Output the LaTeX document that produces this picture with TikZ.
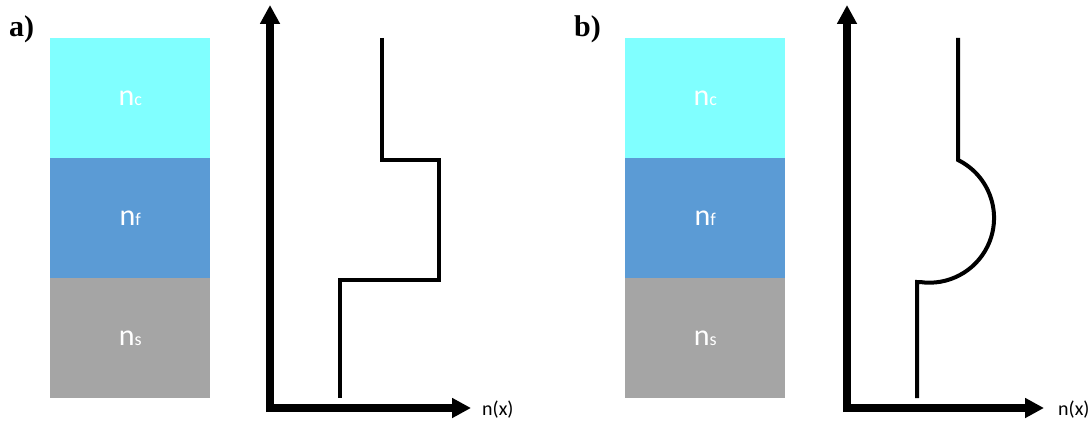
\documentclass[tikz,border=0pt]{standalone}
\usepackage{fontspec}
\setmainfont{Liberation Serif}
\newfontfamily\labelfont{Carlito}
\usetikzlibrary{arrows.meta}
\definecolor{clad}{HTML}{80FFFF}
\definecolor{film}{HTML}{5B9BD5}
\definecolor{subs}{HTML}{A5A5A5}
\newcommand{\idxtext}[2]{{\labelfont\fontsize{30}{32}\selectfont #1}{\labelfont\fontsize{18}{20}\selectfont #2}}
\tikzset{
  layer/.style={draw=none, minimum width=160pt, minimum height=120pt, inner sep=0pt,
                anchor=north west, text=white},
  axis/.style={line width=8pt, -{Triangle[length=19pt,width=19pt]}},
  profile/.style={line width=4pt, line join=miter},
  panel/.style={font=\bfseries\fontsize{30}{32}\selectfont, anchor=base west, inner sep=0pt},
  axlabel/.style={font=\labelfont\fontsize{20}{22}\selectfont, anchor=base west, inner sep=0pt},
}
\begin{document}
\begin{tikzpicture}[x=1pt, y=1pt]
  \useasboundingbox (0,0) rectangle (1092,421);

  % ---------- panel a ----------
  \node[panel] (la) at (9,384) {a)};
  \node[layer, fill=clad] (ca) at (50,383) {\idxtext{n}{c}};
  \node[layer, fill=film] (fa) at (50,263) {\idxtext{n}{f}};
  \node[layer, fill=subs] (sa) at (50,143) {\idxtext{n}{s}};

  \coordinate (oa) at (270,9);
  \coordinate (ya) at (270,416);
  \coordinate (ha) at (266,13);
  \coordinate (xa) at (471,13);
  \draw[axis] (oa) -- (ya);
  \draw[axis] (ha) -- (xa);
  \node[axlabel] (nxa) at (482,6) {n(x)};

  \draw[profile] (382,383) -- (382,261) -- (439,261) -- (439,141)
                 -- (340,141) -- (340,23);

  % ---------- panel b ----------
  \node[panel] (lb) at (574,384) {b)};
  \node[layer, fill=clad] (cb) at (625,383) {\idxtext{n}{c}};
  \node[layer, fill=film] (fb) at (625,263) {\idxtext{n}{f}};
  \node[layer, fill=subs] (sb) at (625,143) {\idxtext{n}{s}};

  \coordinate (ob) at (847,9);
  \coordinate (yb) at (847,416);
  \coordinate (hb) at (843,13);
  \coordinate (xb) at (1044,13);
  \draw[axis] (ob) -- (yb);
  \draw[axis] (hb) -- (xb);
  \node[axlabel] (nxb) at (1058,6) {n(x)};

  \draw[profile] (958,383) -- (958,261)
                 arc[start angle=63.7, end angle=-98.3, radius=64.7]
                 -- (917,139) -- (917,23);
\end{tikzpicture}
\end{document}
